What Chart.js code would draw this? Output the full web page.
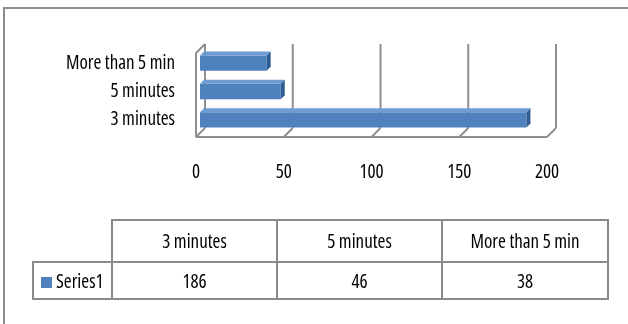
<!DOCTYPE html>
<html>
<head>
<meta charset="utf-8">
<script src="https://cdn.jsdelivr.net/npm/chart.js@4/dist/chart.umd.min.js"></script>
<style>
  body { margin: 0; background: #fff; }
  #wrap { position: relative; width: 628px; height: 324px; overflow: hidden; }
  #frame { position: absolute; left: 3px; top: 7px; width: 700px; height: 400px;
    border-left: 2px solid #8c8c8c; border-top: 2px solid #8c8c8c; }
  #chart { position: absolute; left: 0; top: 0; }
  #dataTable { position: absolute; left: 32px; top: 219px; border-collapse: collapse;
    table-layout: fixed; font-family: 'Open Sans', sans-serif; font-stretch: condensed;
    font-size: 19px; color: #000; }
  #dataTable td { border: 2px solid #8a8a8a; text-align: center; padding: 0; white-space: nowrap; }
  #dataTable tr.head td { height: 40px; }
  #dataTable tr.vals td { height: 35px; }
  #dataTable td.corner { border-top: hidden; border-left: hidden; }
  #dataTable td.legend { text-align: left; padding-left: 7px; }
  .swatch { display: inline-block; width: 11px; height: 11px; background: #4f81bd; margin-right: 4px; vertical-align: 0px; }
</style>
</head>
<body>
<div id="wrap">
  <div id="frame"></div>
  <canvas id="chart" width="628" height="324"></canvas>
  <table id="dataTable"></table>
</div>
<script>
const categories = ["3 minutes", "5 minutes", "More than 5 min"];
const series1 = [186, 46, 38];
const seriesName = "Series1";
const xTicks = [0, 50, 100, 150, 200];

const barColor = "#4f81bd";

Chart.defaults.font.family = "'Open Sans', sans-serif";
Chart.defaults.font.size = 19;
Chart.defaults.color = "#000";

// narrow lettering like the original chart font
const condensed = {
  id: "condensed",
  beforeDraw(chart) { chart.ctx.fontStretch = "condensed"; }
};

// back wall, floor and left wall of the 3D plot, plus bar top/side faces
const walls3d = {
  id: "walls3d",
  beforeDatasetsDraw(chart) {
    const { ctx, chartArea } = chart;
    const x = chart.scales.x;
    const top = chartArea.top - 5, bottom = chartArea.bottom - 6;
    const d = 9, shift = 5;
    const line = (x1, y1, x2, y2) => { ctx.beginPath(); ctx.moveTo(x1, y1); ctx.lineTo(x2, y2); ctx.stroke(); };
    ctx.save();
    ctx.strokeStyle = "#8e8e8e";
    ctx.lineWidth = 2;
    xTicks.forEach(v => {
      const bx = x.getPixelForValue(v) + shift;
      line(bx, top, bx, bottom);
      line(bx, bottom, bx - d, bottom + d);
    });
    const x0 = x.getPixelForValue(xTicks[0]) + shift;
    const x1 = x.getPixelForValue(xTicks[xTicks.length - 1]) + shift;
    line(x0 - d, bottom + d, x1 - d, bottom + d);
    line(x0 - d, top + d, x0 - d, bottom + d);
    line(x0 - d, top + d, x0, top);
    ctx.restore();
  },
  afterDatasetsDraw(chart) {
    const { ctx } = chart;
    const d = 4;
    ctx.save();
    chart.getDatasetMeta(0).data.forEach(bar => {
      const t = bar.y - bar.height / 2, b = bar.y + bar.height / 2;
      ctx.fillStyle = "#6f9bd3";
      ctx.beginPath();
      ctx.moveTo(bar.base, t); ctx.lineTo(bar.x, t); ctx.lineTo(bar.x + d, t - d); ctx.lineTo(bar.base + d, t - d);
      ctx.closePath(); ctx.fill();
      ctx.fillStyle = "#2f5d93";
      ctx.beginPath();
      ctx.moveTo(bar.x, t); ctx.lineTo(bar.x + d, t - d); ctx.lineTo(bar.x + d, b - d); ctx.lineTo(bar.x, b);
      ctx.closePath(); ctx.fill();
    });
    ctx.restore();
  }
};

new Chart(document.getElementById("chart"), {
  type: "bar",
  data: {
    labels: categories,
    datasets: [{
      label: seriesName,
      data: series1,
      backgroundColor: barColor,
      borderWidth: 0,
      barPercentage: 0.54,
      categoryPercentage: 1
    }]
  },
  options: {
    indexAxis: "y",
    responsive: false,
    animation: false,
    layout: { padding: { left: 0, right: 77, top: 49, bottom: 0 } },
    plugins: { legend: { display: false }, tooltip: { enabled: false } },
    scales: {
      x: {
        min: 0, max: 200,
        afterBuildTicks: s => { s.ticks = xTicks.map(v => ({ value: v })); },
        afterFit: s => { s.height = 190; },
        ticks: { padding: 27, labelOffset: -4, maxRotation: 0 },
        grid: { display: false, drawTicks: false },
        border: { display: false }
      },
      y: {
        reverse: true,
        afterFit: s => { s.width = 200; },
        ticks: { padding: 25 },
        grid: { display: false, drawTicks: false },
        border: { display: false }
      }
    }
  },
  plugins: [condensed, walls3d]
});

// data table under the chart
const table = document.getElementById("dataTable");
const colgroup = document.createElement("colgroup");
[79, 165, 165, 166].forEach(w => {
  const c = document.createElement("col");
  c.style.width = w + "px";
  colgroup.appendChild(c);
});
table.appendChild(colgroup);
const head = table.insertRow();
head.className = "head";
head.insertCell().className = "corner";
categories.forEach(c => { head.insertCell().textContent = c; });
const vals = table.insertRow();
vals.className = "vals";
const lg = vals.insertCell();
lg.className = "legend";
lg.innerHTML = '<span class="swatch"></span>';
lg.appendChild(document.createTextNode(seriesName));
series1.forEach(v => { vals.insertCell().textContent = v; });
</script>
</body>
</html>
